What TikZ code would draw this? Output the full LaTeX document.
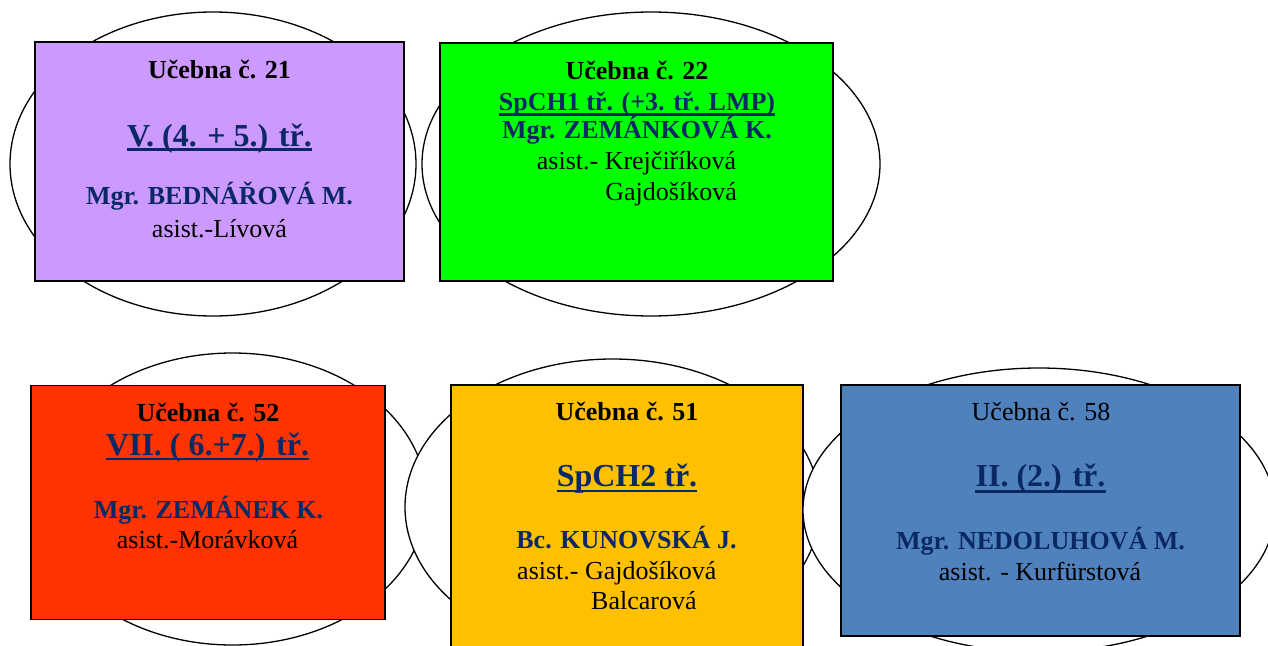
\documentclass[tikz,border=0pt]{standalone}
\usepackage{fontspec}
\setmainfont{Liberation Serif}
\usetikzlibrary{shapes.geometric}
\definecolor{navy}{RGB}{10,40,100}
\definecolor{lilac}{HTML}{CC99FF}
\definecolor{lime}{HTML}{00FF00}
\definecolor{scarlet}{HTML}{FF3300}
\definecolor{gold}{HTML}{FFC000}
\definecolor{steel}{HTML}{4F81BD}
\begin{document}
\begin{tikzpicture}[x=1pt,y=-1pt,
  oval/.style={ellipse, draw=black, line width=1.3pt, fill=white, inner sep=0pt},
  room/.style={rectangle, draw=black, line width=1.2pt, inner sep=0pt},
  txt/.style={anchor=base, inner sep=0pt, font=\fontsize{26}{30}\selectfont},
  hdr/.style={anchor=base, inner sep=0pt, font=\fontsize{26}{30}\selectfont\bfseries},
  tch/.style={hdr, text=navy},
  ttl/.style={anchor=base, inner sep=0pt, text=navy, font=\fontsize{32}{36}\selectfont\bfseries},
  ttlsmall/.style={anchor=base, inner sep=0pt, text=navy, font=\fontsize{26}{30}\selectfont\bfseries},
  uline/.style={draw=navy, line width=2.8pt}]
\useasboundingbox (0,0) rectangle (1268,645);
\clip (0,0) rectangle (1268,645);
\fill[white] (0,0) rectangle (1268,645);

% top row
\node[oval, minimum width=406pt, minimum height=304pt] (e1) at (213,164) {};
\node[room, fill=lilac, minimum width=369pt, minimum height=239pt] (b1) at (219.5,161.5) {};
\node[oval, minimum width=458pt, minimum height=304pt] (e2) at (651,164) {};
\node[room, fill=lime, minimum width=393pt, minimum height=238pt] (b2) at (636.5,162) {};

% bottom row
\node[oval, minimum width=388pt, minimum height=292pt] (e3) at (232.5,499) {};
\node[room, fill=scarlet, minimum width=354pt, minimum height=234pt] (b3) at (208,502.5) {};
\node[oval, minimum width=415pt, minimum height=296pt] (e4) at (612.5,507) {};
\node[room, fill=gold, minimum width=352pt, minimum height=300pt] (b4) at (627,535) {};
\node[oval, minimum width=472pt, minimum height=284pt] (e5) at (1039,510) {};
\node[room, fill=steel, minimum width=399pt, minimum height=251pt] (b5) at (1040.5,510.5) {};

% box 1
\node[hdr] (h1) at (219.5,78.3) {Učebna č. 21};
\node[ttl] (t1) at (219.5,146) {V. (4. + 5.) tř.};
\draw[uline] ([yshift=-3.5pt]t1.base west) -- ([yshift=-3.5pt]t1.base east);
\node[tch] (m1) at (219.5,204) {Mgr. BEDNÁŘOVÁ M.};
\node[txt] (a1) at (219.5,237.3) {asist.-Lívová};

% box 2
\node[hdr] (h2) at (637,79) {Učebna č. 22};
\node[ttlsmall] (t2) at (637,110) {SpCH1 tř. (+3. tř. LMP)};
\draw[uline] ([yshift=-4.5pt]t2.base west) -- ([yshift=-4.5pt]t2.base east);
\node[tch] (m2) at (637,138.3) {Mgr. ZEMÁNKOVÁ K.};
\node[txt] (a2) at (636.5,169.3) {asist.- Krejčiříková};
\node[txt, anchor=base east] (a2b) at (737,200) {Gajdošíková};

% box 3
\node[hdr] (h3) at (208,421) {Učebna č. 52};
\node[ttl] (t3) at (207.5,455) {VII. ( 6.+7.) tř.};
\draw[uline] ([yshift=-4pt]t3.base west) -- ([yshift=-4pt]t3.base east);
\node[tch] (m3) at (208.5,518.3) {Mgr. ZEMÁNEK K.};
\node[txt] (a3) at (207.5,548.3) {asist.-Morávková};

% box 4
\node[hdr] (h4) at (627,420) {Učebna č. 51};
\node[ttl] (t4) at (627,486) {SpCH2 tř.};
\draw[uline] ([yshift=-5pt]t4.base west) -- ([yshift=-5pt]t4.base east);
\node[tch] (m4) at (626.5,548.3) {Bc. KUNOVSKÁ J.};
\node[txt, anchor=base west] (a4) at (517,579.3) {asist.- Gajdošíková};
\node[txt, anchor=base west] (a4b) at (591,609.3) {Balcarová};

% box 5
\node[txt] (h5) at (1041,420.7) {Učebna č. 58};
\node[ttl] (t5) at (1040.5,486.7) {II. (2.) tř.};
\draw[uline] ([yshift=-5pt]t5.base west) -- ([yshift=-5pt]t5.base east);
\node[tch] (m5) at (1040.5,549.3) {Mgr. NEDOLUHOVÁ M.};
\node[txt] (a5) at (1040,580) {asist. - Kurfürstová};
\end{tikzpicture}
\end{document}
